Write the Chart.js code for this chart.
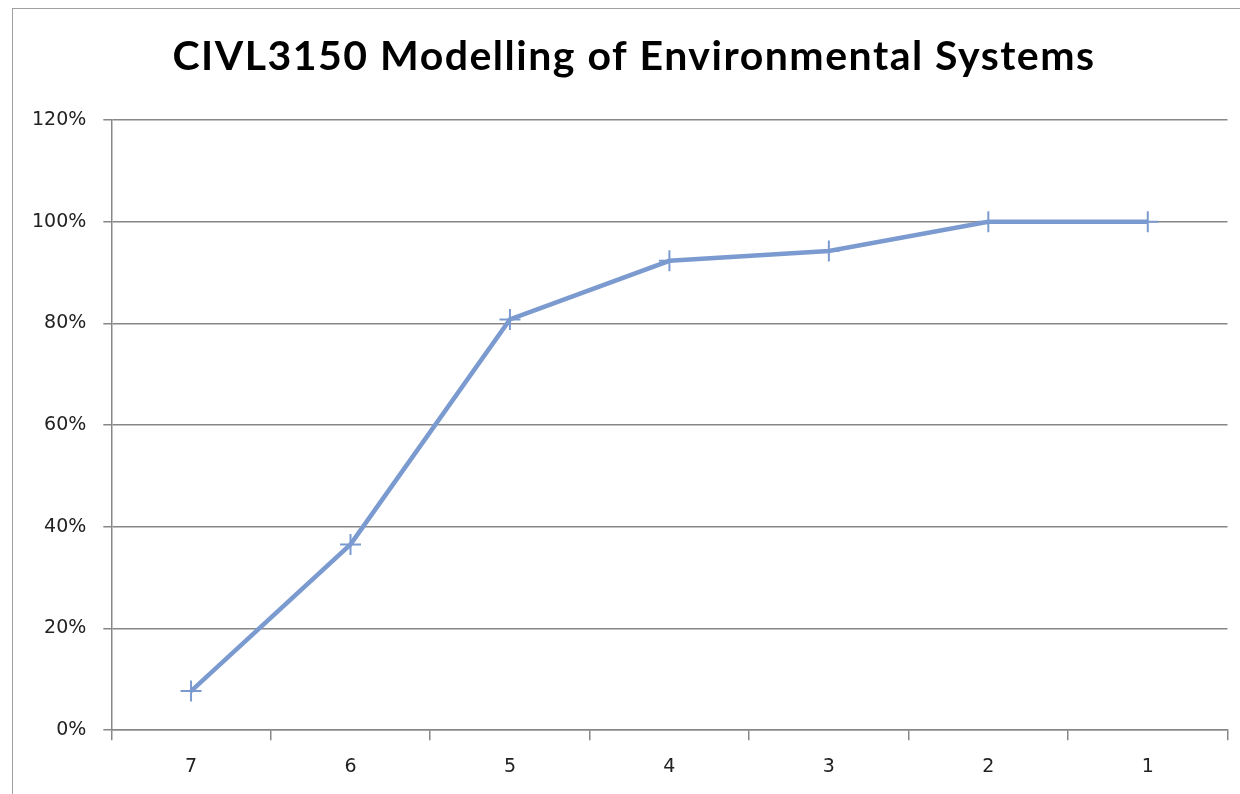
<!DOCTYPE html>
<html>
<head>
<meta charset="utf-8">
<script src="https://cdn.jsdelivr.net/npm/chart.js@4/dist/chart.umd.min.js"></script>
<style>
  html, body { margin: 0; padding: 0; background: #fff; }
  #wrap { position: relative; width: 1240px; height: 794px; overflow: hidden; }
  #frame { position: absolute; left: 12px; top: 8px; width: 1240px; height: 800px;
           border-left: 1.5px solid #a0a0a0; border-top: 1.5px solid #a0a0a0; pointer-events: none; }
  canvas { position: absolute; left: 0; top: 0; }
</style>
</head>
<body>
<div id="wrap">
  <canvas id="c" width="1240" height="794"></canvas>
  <div id="frame"></div>
</div>
<script>
const titleText = "CIVL3150 Modelling of Environmental Systems";
const categories = ["7", "6", "5", "4", "3", "2", "1"];
const cumulativeShare = [0.0769, 0.3654, 0.8077, 0.9231, 0.9423, 1.0, 1.0];
const yTickMin = 0;
const yTickMax = 1.2;
const yTickStep = 0.2;

const gridGrey = '#878787';
const lineBlue = '#7b9bd0';

// Title drawn on the canvas with letter spacing to match the reference width
const spacedTitle = {
  id: 'spacedTitle',
  afterDraw(chart) {
    const ctx = chart.ctx;
    ctx.save();
    ctx.font = 'bold 41px Lato';
    if ('letterSpacing' in ctx) ctx.letterSpacing = '1.5px';
    ctx.fillStyle = '#000';
    ctx.textAlign = 'center';
    ctx.textBaseline = 'alphabetic';
    ctx.fillText(titleText, 634, 70);
    ctx.restore();
  }
};

new Chart(document.getElementById('c'), {
  type: 'line',
  data: {
    labels: categories,
    datasets: [{
      data: cumulativeShare,
      borderColor: lineBlue,
      borderWidth: 4.5,
      pointStyle: 'cross',
      pointRadius: 10.5,
      pointBorderWidth: 2,
      pointBorderColor: lineBlue,
      pointBackgroundColor: lineBlue,
      tension: 0,
      fill: false
    }]
  },
  plugins: [spacedTitle],
  options: {
    responsive: false,
    animation: false,
    devicePixelRatio: 1,
    layout: { padding: { left: 15, right: 4, top: 120, bottom: 1 } },
    plugins: {
      legend: { display: false },
      tooltip: { enabled: false },
      title: { display: false }
    },
    scales: {
      x: {
        type: 'category',
        offset: true,
        grid: { offset: true, drawOnChartArea: false, drawTicks: true, tickLength: 10, color: gridGrey, lineWidth: 1.5 },
        border: { display: true, color: gridGrey, width: 1.5 },
        ticks: { color: '#222', font: { family: 'DejaVu Sans', size: 19 }, padding: 15 }
      },
      y: {
        min: yTickMin,
        max: yTickMax,
        ticks: {
          stepSize: yTickStep,
          color: '#222',
          font: { family: 'DejaVu Sans', size: 19 },
          padding: 17,
          callback: v => Math.round(v * 100) + '%'
        },
        grid: { color: gridGrey, lineWidth: 1.5, tickLength: 8 },
        border: { display: true, color: gridGrey, width: 1.5 }
      }
    }
  }
});
</script>
</body>
</html>
